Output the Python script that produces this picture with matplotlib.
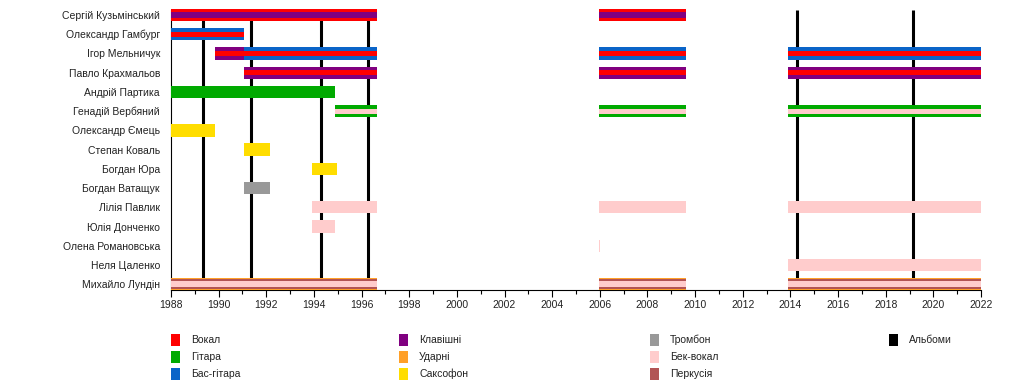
import matplotlib.pyplot as plt
from matplotlib.patches import Rectangle

plt.rcParams['font.family'] = ['Liberation Sans', 'DejaVu Sans']

# ── Data ─────────────────────────────────────────────────────────────────────
members = ['Сергій Кузьмінський', 'Олександр Гамбург', 'Ігор Мельничук',
           'Павло Крахмальов', 'Андрій Партика', 'Генадій Вербяний',
           'Олександр Ємець', 'Степан Коваль', 'Богдан Юра', 'Богдан Ватащук',
           'Лілія Павлик', 'Юлія Донченко', 'Олена Романовська',
           'Неля Цаленко', 'Михайло Лундін']

roles = ['Вокал', 'Гітара', 'Бас-гітара', 'Клавішні', 'Ударні', 'Саксофон',
         'Тромбон', 'Бек-вокал', 'Перкусія']
role_colors = ['#FF0000', '#00AA00', '#0A64C8', '#800080', '#FFA028',
               '#FFDD00', '#999999', '#FFCCCC', '#B25454']

# one entry per bar: member, start, end, roles (outer first)
bar_member = [0, 0,
              1,
              2, 2, 2, 2,
              3, 3, 3,
              4,
              5, 5, 5,
              6, 7, 8, 9,
              10, 10, 10,
              11, 12, 13,
              14, 14, 14]
bar_start = [1988.0, 2005.95,
             1988.0,
             1989.85, 1991.05, 2005.95, 2013.9,
             1991.05, 2005.95, 2013.9,
             1988.0,
             1994.9, 2005.95, 2013.9,
             1988.0, 1991.05, 1993.9, 1991.05,
             1993.9, 2005.95, 2013.9,
             1993.9, 2005.95, 2013.9,
             1988.0, 2005.95, 2013.9]
bar_end = [1996.65, 2009.6,
           1991.05,
           1991.05, 1996.65, 2009.6, 2022.0,
           1996.65, 2009.6, 2022.0,
           1994.9,
           1996.65, 2009.6, 2022.0,
           1989.85, 1992.15, 1994.95, 1992.15,
           1996.65, 2009.6, 2022.0,
           1994.9, 2006.0, 2022.0,
           1996.65, 2009.6, 2022.0]
bar_roles = [('Вокал', 'Клавішні'), ('Вокал', 'Клавішні'),
             ('Бас-гітара', 'Вокал'),
             ('Клавішні', 'Вокал'), ('Бас-гітара', 'Вокал'),
             ('Бас-гітара', 'Вокал'), ('Бас-гітара', 'Вокал'),
             ('Клавішні', 'Вокал'), ('Клавішні', 'Вокал'), ('Клавішні', 'Вокал'),
             ('Гітара',),
             ('Гітара', 'Бек-вокал'), ('Гітара', 'Бек-вокал'), ('Гітара', 'Бек-вокал'),
             ('Саксофон',), ('Саксофон',), ('Саксофон',), ('Тромбон',),
             ('Бек-вокал',), ('Бек-вокал',), ('Бек-вокал',),
             ('Бек-вокал',), ('Бек-вокал',), ('Бек-вокал',),
             ('Ударні', 'Перкусія', 'Бек-вокал'),
             ('Ударні', 'Перкусія', 'Бек-вокал'),
             ('Ударні', 'Перкусія', 'Бек-вокал')]

albums = [1989.35, 1991.35, 1994.3, 1996.27, 2014.28, 2019.15]

# ── Plot ─────────────────────────────────────────────────────────────────────
fig = plt.figure(figsize=(10.1, 3.9), dpi=100)
fig.patch.set_facecolor('white')
ax = fig.add_axes([171 / 1010, 100 / 390, 810 / 1010, 285 / 390])

color_of = dict(zip(roles, role_colors))
BAR_H = 0.64
layer_h = {1: [1.0], 2: [1.0, 0.42], 3: [1.0, 0.8, 0.5]}

for m, s, e, rs in zip(bar_member, bar_start, bar_end, bar_roles):
    for r, h in zip(rs, layer_h[len(rs)]):
        ax.barh(m, e - s, left=s, height=BAR_H * h, color=color_of[r],
                linewidth=0, zorder=3)

ax.vlines(albums, -0.27, 13.7, color='black', linewidth=2.2, zorder=2)

ax.set_xlim(1988, 2022)
ax.set_ylim(14.3, -0.52)
ax.set_yticks(range(len(members)))
ax.set_yticklabels(members, fontsize=7.5, color='#222222')
ax.tick_params(axis='y', length=0, pad=8)
ax.set_xticks(range(1988, 2023, 2))
ax.set_xticks(range(1988, 2023), minor=True)
ax.tick_params(axis='x', which='major', length=5, width=0.8, labelsize=7.5,
               pad=2, labelcolor='#222222')
ax.tick_params(axis='x', which='minor', length=3, width=0.8)
for side in ['top', 'right']:
    ax.spines[side].set_visible(False)
ax.spines['left'].set_bounds(14.3, -0.27)
ax.spines['left'].set_linewidth(0.8)
ax.spines['bottom'].set_linewidth(0.8)

# ── Legend ───────────────────────────────────────────────────────────────────
leg = fig.add_axes([0, 0, 1, 1], zorder=-1)
leg.set_xlim(0, 1010)
leg.set_ylim(390, 0)
leg.axis('off')

legend_labels = roles + ['Альбоми']
legend_colors = role_colors + ['#000000']
col_x = [171, 399, 650, 889]
row_y = [340, 357, 374]
for i, (lab, col) in enumerate(zip(legend_labels, legend_colors)):
    x = col_x[i // 3]
    y = row_y[i % 3]
    leg.add_patch(Rectangle((x, y - 6), 9, 12, color=col, linewidth=0))
    leg.text(x + 20, y, lab, fontsize=7.5, va='center', ha='left', color='#222222')

plt.savefig('out.png', dpi=100)
plt.close()
